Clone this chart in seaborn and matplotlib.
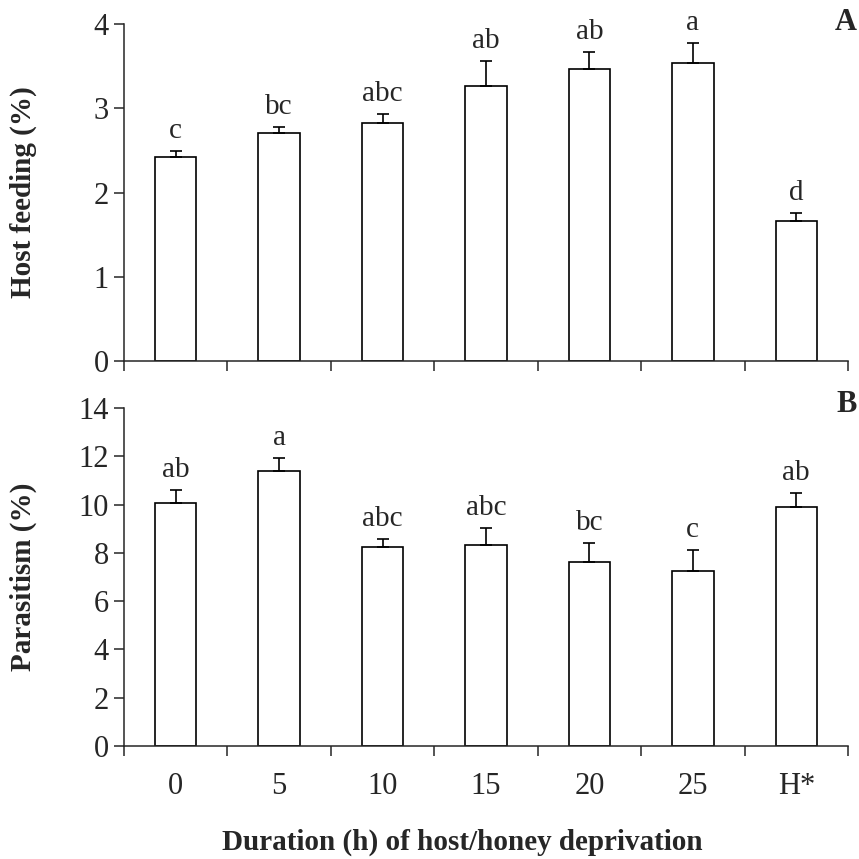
import numpy as np
import pandas as pd
import matplotlib
matplotlib.use("Agg")
import matplotlib.pyplot as plt
import seaborn as sns

categories = ["0", "5", "10", "15", "20", "25", "H*"]
host_feeding = [2.42, 2.71, 2.82, 3.27, 3.47, 3.54, 1.66]
host_feeding_se = [0.07, 0.07, 0.11, 0.29, 0.20, 0.24, 0.10]
host_letters = ["c", "bc", "abc", "ab", "ab", "a", "d"]
parasitism = [10.05, 11.37, 8.24, 8.34, 7.64, 7.25, 9.90]
parasitism_se = [0.55, 0.56, 0.32, 0.71, 0.77, 0.86, 0.60]
para_letters = ["ab", "a", "abc", "abc", "bc", "c", "ab"]

sns.set_style("ticks")
plt.rcParams["font.family"] = ["Liberation Serif", "DejaVu Serif"]
plt.rcParams["axes.linewidth"] = 1.1

W = H = 859
fig = plt.figure(figsize=(W / 100, H / 100), dpi=100)

def box(l, t, r, b):
    return [l / W, 1 - b / H, (r - l) / W, (b - t) / H]

ax1 = fig.add_axes(box(124, 24, 848, 361))
ax2 = fig.add_axes(box(124, 408, 848, 746))

TICK_FS = 22
LET_FS = 21

def panel(ax, vals, errs, letters, ylim, yticks, ylabel, show_xlabels):
    df = pd.DataFrame({"cat": categories, "val": vals})
    sns.barplot(data=df, x="cat", y="val", order=categories, color="white",
                saturation=1, edgecolor="black", linewidth=1.2, width=0.4,
                errorbar=None, ax=ax)
    xs = np.arange(len(categories))
    ax.errorbar(xs, vals, yerr=[np.zeros(len(vals)), errs], fmt="none",
                ecolor="black", elinewidth=1.2, capsize=4, capthick=1.2, zorder=3)
    for x, v, e, t in zip(xs, vals, errs, letters):
        ax.annotate(t, xy=(x, v + e), xytext=(0, 5), textcoords="offset points",
                    ha="center", va="bottom", fontsize=LET_FS)
    ax.set_xlim(-0.5, len(categories) - 0.5)
    ax.set_ylim(*ylim)
    ax.set_yticks(yticks)
    ax.tick_params(axis="y", labelsize=TICK_FS, length=7, width=1.1, pad=4, direction="out")
    ax.set_xticks(xs)
    ax.set_xticks(np.arange(-0.5, len(categories), 1.0), minor=True)
    ax.tick_params(axis="x", which="major", length=0, pad=19, labelsize=TICK_FS)
    ax.tick_params(axis="x", which="minor", length=7, width=1.1, direction="out")
    if not show_xlabels:
        ax.set_xticklabels([])
    ax.set_xlabel("")
    ax.set_ylabel(ylabel, fontsize=21, fontweight="bold")
    sns.despine(ax=ax)
    for s in ax.spines.values():
        s.set_linewidth(1.1)

panel(ax1, host_feeding, host_feeding_se, host_letters, (0, 4), [0, 1, 2, 3, 4],
      "Host feeding (%)", False)
panel(ax2, parasitism, parasitism_se, para_letters, (0, 14), list(range(0, 15, 2)),
      "Parasitism (%)", True)

ax1.yaxis.set_label_coords(-0.12, 0.5)
ax2.yaxis.set_label_coords(-0.12, 0.5)

fig.text(462 / W, 1 - 842 / H, "Duration (h) of host/honey deprivation",
         ha="center", va="center", fontsize=21, fontweight="bold")
fig.text(857 / W, 1 - 22 / H, "A", ha="right", va="center", fontsize=22, fontweight="bold")
fig.text(857 / W, 1 - 405 / H, "B", ha="right", va="center", fontsize=22, fontweight="bold")

fig.savefig("out.png", dpi=100)
